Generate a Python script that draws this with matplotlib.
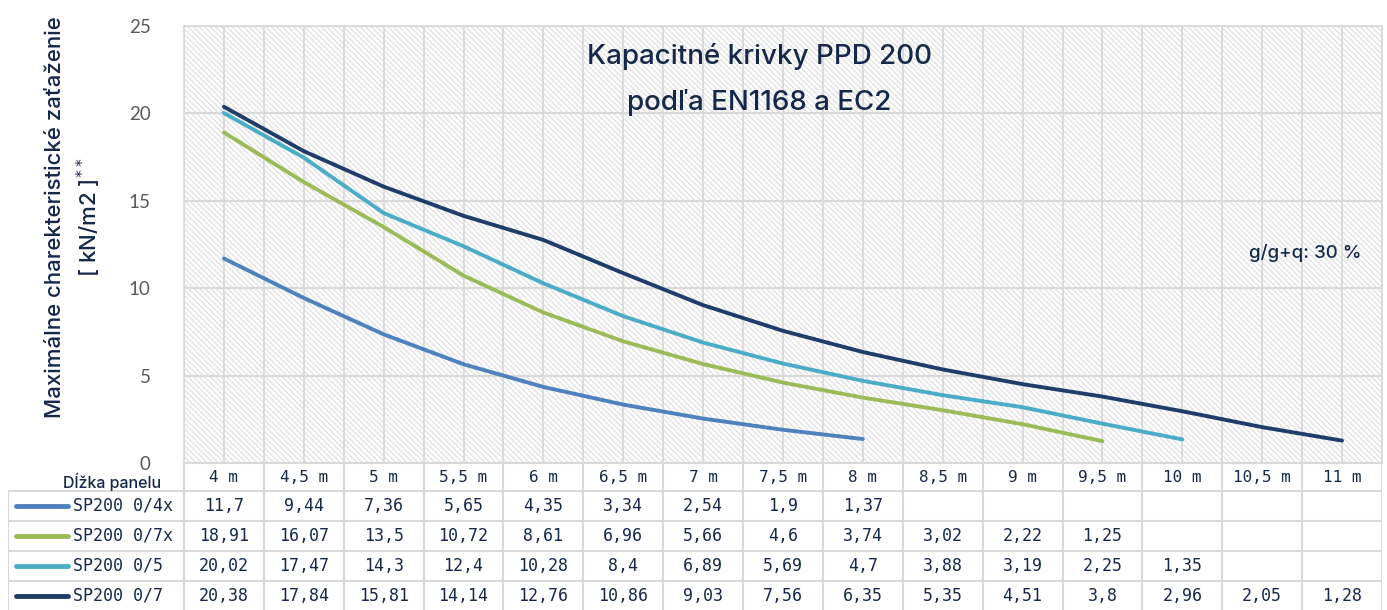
import numpy as np
import matplotlib.pyplot as plt
from matplotlib.patches import Rectangle

# data
dlzky = ["4 m", "4,5 m", "5 m", "5,5 m", "6 m", "6,5 m", "7 m", "7,5 m",
         "8 m", "8,5 m", "9 m", "9,5 m", "10 m", "10,5 m", "11 m"]
nazvy = ["SP200 0/4x", "SP200 0/7x", "SP200 0/5", "SP200 0/7"]
sp_04x = [11.7, 9.44, 7.36, 5.65, 4.35, 3.34, 2.54, 1.9, 1.37]
sp_07x = [18.91, 16.07, 13.5, 10.72, 8.61, 6.96, 5.66, 4.6, 3.74, 3.02, 2.22, 1.25]
sp_05 = [20.02, 17.47, 14.3, 12.4, 10.28, 8.4, 6.89, 5.69, 4.7, 3.88, 3.19, 2.25, 1.35]
sp_07 = [20.38, 17.84, 15.81, 14.14, 12.76, 10.86, 9.03, 7.56, 6.35, 5.35, 4.51, 3.8, 2.96, 2.05, 1.28]
serie = [sp_04x, sp_07x, sp_05, sp_07]
farby = ["#4f81bd", "#9bbb59", "#4bacc6", "#1f3d68"]

navy = "#15284a"
siva = "#d9d9d9"
nadpis_font = ["Inter", "DejaVu Sans"]

W, H = 1387, 610
fig = plt.figure(figsize=(W / 100, H / 100), dpi=100)

L, R, T, B = 184, 1382, 26, 463
ax = fig.add_axes([L / W, 1 - B / H, (R - L) / W, (B - T) / H])
n = len(dlzky)
ax.set_xlim(-0.5, n - 0.5)
ax.set_ylim(0, 25)

plt.rcParams["hatch.linewidth"] = 1.0
ax.add_patch(Rectangle((0, 0), 1, 1, transform=ax.transAxes, facecolor="white",
                       edgecolor="#e2e2e2", hatch="\\\\\\\\\\\\", linewidth=0, zorder=0))

for y in range(5, 26, 5):
    ax.axhline(y, color=siva, lw=1.5, zorder=1)
for x in np.arange(-0.5, n, 0.5):
    ax.axvline(x, color=siva, lw=1.3, zorder=1)

for vals, c in zip(serie, farby):
    ax.plot(np.arange(len(vals)), vals, color=c, lw=2.8, solid_capstyle="round", zorder=3)

ax.set_xticks([])
ax.set_yticks(range(0, 26, 5))
ax.tick_params(axis="y", length=0, pad=24, labelsize=13.5, labelcolor="#595959")
for lab in ax.get_yticklabels():
    lab.set_fontfamily("Lato")
for s in ax.spines.values():
    s.set_color(siva)
    s.set_linewidth(1.2)

fig.text(55 / W, 1 - 217 / H, "Maximálne charekteristické zaťaženie", rotation=90,
         ha="center", va="center", fontsize=16, color=navy, family=nadpis_font,
         fontweight="medium")
fig.text(89 / W, 1 - 217 / H, "[ kN/m2 ]$^{**}$", rotation=90,
         ha="center", va="center", fontsize=16, color=navy, family=nadpis_font,
         fontweight="medium")

ax.text(0.48, 0.93, "Kapacitné krivky PPD 200", transform=ax.transAxes, ha="center",
        va="center", fontsize=20, color=navy, family=nadpis_font, fontweight="medium")
ax.text(0.48, 0.825, "podľa EN1168 a EC2", transform=ax.transAxes, ha="center",
        va="center", fontsize=20, color=navy, family=nadpis_font, fontweight="medium")
ax.text(0.983, 0.48, "g/g+q: 30 %", transform=ax.transAxes, ha="right",
        va="center", fontsize=13.5, color=navy, family=nadpis_font, fontweight="medium")

# table below the plot
tx0 = 8
per = (R - L) / n
tab = fig.add_axes([tx0 / W, 0, (R - tx0) / W, B / H])
tab.set_xlim(-0.5 - (L - tx0) / per, n - 0.5)
tab.set_ylim(H, H - B)
tab.axis("off")

rows_y = [463, 491, 521, 551, 581, 611]
tab.plot([-0.5, -0.5], [rows_y[0], H], color=siva, lw=1.5)
for i in range(n):
    tab.plot([i + 0.5, i + 0.5], [rows_y[0], H], color=siva, lw=1.5)
    tab.text(i, (rows_y[0] + rows_y[1]) / 2 + 1, dlzky[i], ha="center", va="center",
             fontsize=11.5, family="DejaVu Sans Mono", color=navy)
tab.plot([-0.5, n - 0.5], [rows_y[0], rows_y[0]], color=siva, lw=1.5)
x_left = tab.get_xlim()[0]
tab.plot([x_left, x_left], [rows_y[1], H], color=siva, lw=1.5)
for yy in rows_y[1:5]:
    tab.plot([x_left, n - 0.5], [yy, yy], color=siva, lw=1.5)

tab.text(-0.5 - 23 / per, 482, "Dĺžka panelu", ha="right",
         va="center", fontsize=11.5, color=navy, family=nadpis_font, fontweight="medium")

for r, (nm, vals, c) in enumerate(zip(nazvy, serie, farby)):
    yc = (rows_y[r + 1] + rows_y[r + 2]) / 2
    tab.plot([x_left + 8 / per, x_left + 60 / per], [yc, yc], color=c, lw=3.5,
             solid_capstyle="round")
    tab.text(x_left + 65 / per, yc, nm, ha="left", va="center", fontsize=12,
             family="DejaVu Sans Mono", color=navy)
    for i, v in enumerate(vals):
        tab.text(i, yc, f"{v:g}".replace(".", ","), ha="center", va="center",
                 fontsize=12, family="DejaVu Sans Mono", color=navy)

fig.savefig("out.png", dpi=100)
